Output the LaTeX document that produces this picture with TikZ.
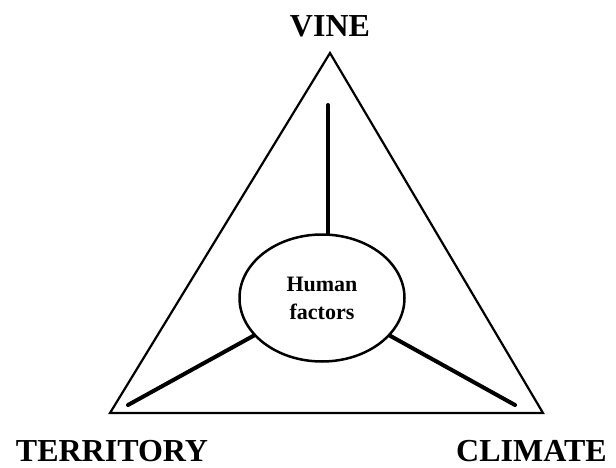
\documentclass[tikz,border=0pt]{standalone}
\usepackage{fontspec}
\setmainfont{Liberation Serif}
\usetikzlibrary{positioning,shapes.geometric}

\begin{document}
\begin{tikzpicture}[
    x=1pt, y=-1pt,
    edge/.style={line width=2.2pt, draw=black, line join=miter},
    spoke/.style={line width=4pt, draw=black, line cap=round},
    hub/.style={
        ellipse,
        draw=black,
        line width=2.5pt,
        minimum width=165pt,
        minimum height=127pt,
        inner sep=0pt,
        align=center,
        font=\bfseries\fontsize{22}{28}\selectfont
    },
    cornertext/.style={font=\bfseries\fontsize{32}{36}\selectfont, inner sep=0pt}
]
\useasboundingbox (0,0) rectangle (616,468);

% triangle corners
\coordinate (top) at (330,53);
\coordinate (left) at (110,413);
\coordinate (right) at (543,413);
\draw[edge] (top) -- (left) -- (right) -- cycle;

% centre
\node[hub] (hf) at (322,298) {Human\\factors};

% spoke ends
\coordinate (vtop) at (328,105);
\coordinate (tend) at (128,405);
\coordinate (cend) at (515,405);
\draw[spoke] (vtop) -- (vtop |- hf.north);
\draw[spoke] (tend) -- (hf);
\draw[spoke] (cend) -- (hf);

\node[cornertext] (vine) at (330,26) {VINE};
\node[cornertext] (territory) at (112,451) {TERRITORY};
\node[cornertext, anchor=west] (climate) at (456,451) {CLIMATE};
\end{tikzpicture}
\end{document}
